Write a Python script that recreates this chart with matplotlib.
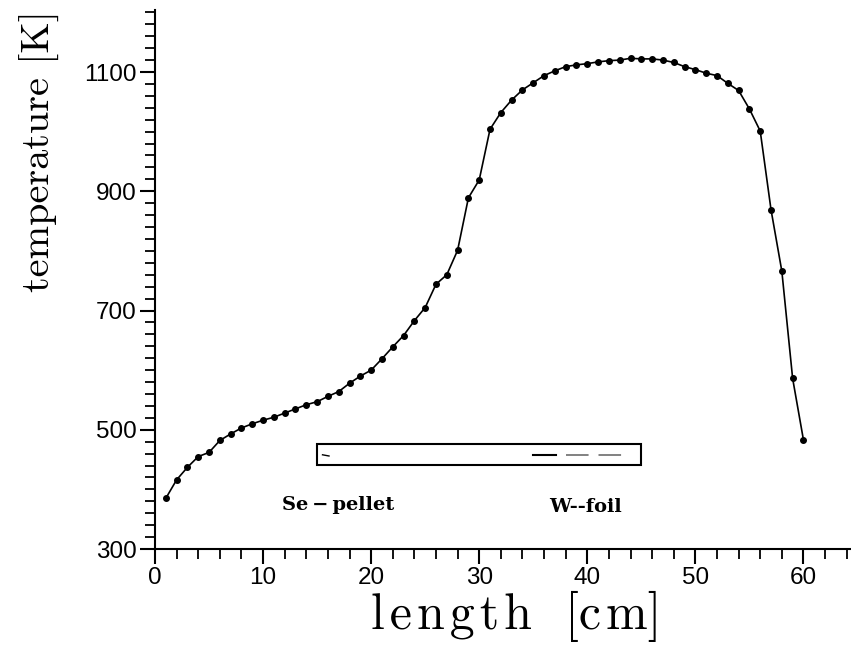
import matplotlib
matplotlib.use("Agg")
import matplotlib.pyplot as plt
from matplotlib.patches import Rectangle
from matplotlib.ticker import MultipleLocator

# temperature profile along the furnace
length_cm = list(range(1, 61))
temp_K = [385, 416, 437, 455, 462, 482, 493, 503, 510, 516,
          521, 528, 535, 542, 547, 556, 564, 578, 590, 600,
          619, 639, 658, 683, 705, 744, 760, 801, 889, 919,
          1004, 1032, 1053, 1070, 1082, 1094, 1102, 1109, 1112, 1114,
          1117, 1119, 1120, 1123, 1122, 1122, 1120, 1116, 1109, 1104,
          1098, 1094, 1081, 1069, 1038, 1001, 869, 766, 586, 483]

x_ticks = [0, 10, 20, 30, 40, 50, 60]
y_ticks = [300, 500, 700, 900, 1100]

# sketch of the ampoule (Se pellet at left, W foil at right)
tube_x = (15, 45)
tube_T = (441, 476)
foil_x = [35, 37.1]
foil_T = [458, 458]
foil2_x = [38.0, 43.4]
labels = ["Se\u2009\u2212\u2009pellet", "W--foil"]
label_x = [16.9, 39.8]
label_T = [374, 370]

fig = plt.figure(figsize=(8.51, 6.46), dpi=100)
ax = fig.add_axes([155 / 851, 1 - 549 / 646, (851 - 155) / 851, (549 - 10) / 646])

ax.plot(length_cm, temp_K, color="black", lw=1.2, marker="o", ms=4)

ax.add_patch(Rectangle((tube_x[0], tube_T[0]), tube_x[1] - tube_x[0],
                       tube_T[1] - tube_T[0], fill=False, lw=1.5, ec="black"))
ax.plot(foil_x, foil_T, color="black", lw=1.5)
ax.plot(foil2_x, foil_T, color="#777777", lw=1.3, dashes=(12.5, 5.5))
ax.plot([15.5, 16.1], [458, 456], color="black", lw=1)

for s, x, t in zip(labels, label_x, label_T):
    ax.text(x, t, s, ha="center", va="center", fontsize=14,
            family="DejaVu Serif", weight="bold")

ax.set_xlim(0, 64.4)
ax.set_ylim(300, 1204)
ax.set_xticks(x_ticks)
ax.set_yticks(y_ticks)
ax.xaxis.set_minor_locator(MultipleLocator(2))
ax.yaxis.set_minor_locator(MultipleLocator(20))

for side in ["top", "right"]:
    ax.spines[side].set_visible(False)
for side in ["left", "bottom"]:
    ax.spines[side].set_linewidth(1.5)

ax.tick_params(which="major", length=11, width=1.5, direction="out",
               labelsize=17.5, pad=2)
ax.tick_params(which="minor", length=7, width=1.3, direction="out")
for lab in ax.get_xticklabels() + ax.get_yticklabels():
    lab.set_family("Liberation Sans")

fig.text(40 / 851, 1 - 151 / 646, "temperature [K]", rotation=90,
         ha="center", va="center", fontsize=29, family="cmr10")
# the scanned label is a little letter-spaced; hair spaces come from DejaVu Serif
xlabel = "\u200a".join("length") + "  [c\u200am]"
fig.text(516 / 851, 1 - 629 / 646, xlabel, ha="center", va="baseline",
         fontsize=36, family=["cmr10", "DejaVu Serif"])

fig.savefig("out.png", dpi=100, facecolor="white")
